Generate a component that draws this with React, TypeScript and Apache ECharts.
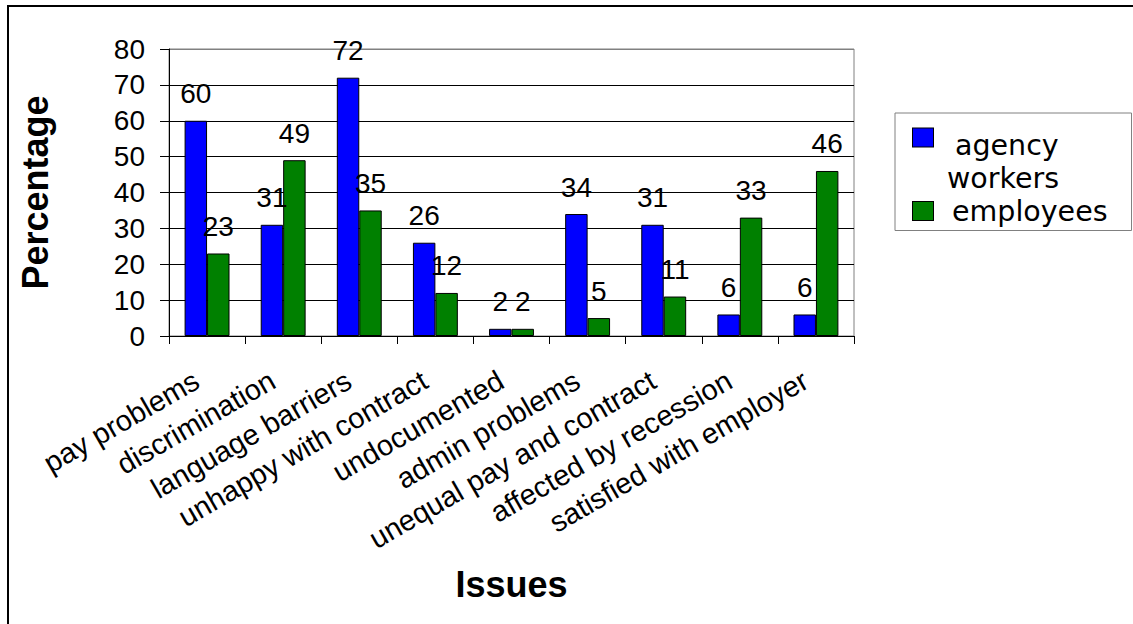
import React, { useEffect, useRef } from "react";
import * as echarts from "echarts";

const categories = [
  "pay problems",
  "discrimination",
  "language barriers",
  "unhappy with contract",
  "undocumented",
  "admin problems",
  "unequal pay and contract",
  "affected by recession",
  "satisfied with employer",
];
const agencyWorkers = [60, 31, 72, 26, 2, 34, 31, 6, 6];
const employees = [23, 49, 35, 12, 2, 5, 11, 33, 46];
const seriesNames = ["agency workers", "employees"];
const yMin = 0;
const yMax = 80;
const yStep = 10;

const FONT = '"Liberation Sans", Arial, Helvetica, sans-serif';
const LEGEND_FONT = '"DejaVu Sans", "Liberation Sans", Arial, sans-serif';

export default function App() {
  const ref = useRef<HTMLDivElement>(null);

  useEffect(() => {
    if (!ref.current) return;
    const chart = echarts.init(ref.current, undefined, { renderer: "svg" });

    const splitColors: string[] = [];
    for (let v = yMin; v <= yMax; v += yStep) {
      splitColors.push(v === yMax ? "#808080" : "#000000");
    }

    const labelStyle = {
      show: true,
      position: "top" as const,
      distance: 13,
      fontFamily: FONT,
      fontSize: 28,
      color: "#000",
    };

    const LH = 33;
    const FS = 28.5;

    chart.setOption({
      animation: false,
      backgroundColor: "#ffffff",
      graphic: [
        {
          type: "rect",
          silent: true,
          z: -10,
          shape: { x: 8, y: 6, width: 1200, height: 700 },
          style: { fill: "none", stroke: "#000", lineWidth: 2 },
        },
      ],
      grid: {
        left: 169,
        top: 49,
        right: 279,
        bottom: 288,
        show: true,
        borderColor: "#808080",
        borderWidth: 1,
        backgroundColor: "transparent",
        containLabel: false,
        outerBoundsMode: "none",
      },
      legend: {
        orient: "vertical",
        left: 895,
        top: 113,
        backgroundColor: "#fff",
        borderColor: "#808080",
        borderWidth: 1,
        borderRadius: 0,
        padding: [10, 24, 3, 13],
        itemWidth: 0,
        itemHeight: 18,
        itemGap: 0,
        icon: "none",
        selectedMode: false,
        data: seriesNames,
        formatter: (name: string) =>
          name === seriesNames[0]
            ? "{b|}{s2|}{t|agency}\n{sp|}{t|workers}"
            : "{g|}{s1|}{t|employees}",
        textStyle: {
          fontFamily: LEGEND_FONT,
          fontSize: FS,
          lineHeight: LH,
          color: "#000",
          rich: {
            t: { fontFamily: LEGEND_FONT, fontSize: FS, lineHeight: LH, color: "#000" },
            b: {
              width: 20,
              height: 18,
              lineHeight: LH,
              verticalAlign: "top",
              backgroundColor: "#0000FF",
              borderColor: "#000",
              borderWidth: 1,
            },
            g: {
              width: 20,
              height: 18,
              lineHeight: LH,
              verticalAlign: "middle",
              backgroundColor: "#008000",
              borderColor: "#000",
              borderWidth: 1,
            },
            s1: { width: 19, lineHeight: LH },
            s2: { width: 22, lineHeight: LH },
            sp: { width: 34, lineHeight: LH },
          },
        },
      },
      xAxis: {
        type: "category",
        data: categories,
        boundaryGap: true,
        name: "Issues",
        nameLocation: "middle",
        nameGap: 230,
        nameMoveOverlap: false,
        nameTextStyle: {
          fontFamily: FONT,
          fontSize: 36,
          fontWeight: "bold",
          color: "#000",
        },
        axisLine: { show: true, lineStyle: { color: "#000", width: 1 } },
        axisTick: {
          show: true,
          interval: 0,
          alignWithLabel: false,
          length: 8,
          lineStyle: { color: "#000", width: 1 },
        },
        axisLabel: {
          interval: 0,
          rotate: 30,
          margin: 36,
          padding: [0, 12, 0, 0],
          fontFamily: FONT,
          fontSize: 29,
          color: "#000",
          hideOverlap: false,
        },
        splitLine: { show: false },
      },
      yAxis: {
        type: "value",
        min: yMin,
        max: yMax,
        interval: yStep,
        name: "Percentage",
        nameLocation: "middle",
        nameGap: 116,
        nameMoveOverlap: false,
        nameTextStyle: {
          fontFamily: FONT,
          fontSize: 36,
          fontWeight: "bold",
          color: "#000",
        },
        axisLine: { show: true, lineStyle: { color: "#000", width: 1 } },
        axisTick: {
          show: true,
          length: 9,
          lineStyle: { color: "#000", width: 1 },
        },
        axisLabel: {
          margin: 24,
          fontFamily: FONT,
          fontSize: 28,
          color: "#000",
        },
        splitLine: {
          show: true,
          lineStyle: { color: splitColors, width: 1 },
        },
      },
      series: [
        {
          name: seriesNames[0],
          type: "bar",
          data: agencyWorkers,
          barGap: "0%",
          barCategoryGap: "41%",
          itemStyle: { color: "#0000FF", borderColor: "#000", borderWidth: 1 },
          label: labelStyle,
        },
        {
          name: seriesNames[1],
          type: "bar",
          data: employees,
          barGap: "0%",
          barCategoryGap: "41%",
          itemStyle: { color: "#008000", borderColor: "#000", borderWidth: 1 },
          label: labelStyle,
        },
      ],
    });

    return () => {
      chart.dispose();
    };
  }, []);

  return (
    <div
      ref={ref}
      style={{ position: "absolute", left: 0, top: 0, width: 1133, height: 624 }}
    />
  );
}
